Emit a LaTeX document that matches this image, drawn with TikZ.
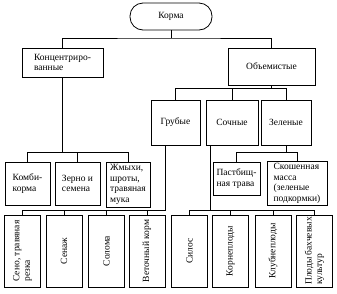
\documentclass[tikz,border=0pt]{standalone}
\usepackage{fontspec}
\setmainfont{Liberation Serif}
\usetikzlibrary{positioning}

\begin{document}
\begin{tikzpicture}[x=1pt, y=-1pt,
  box/.style={rectangle, draw, line width=0.8pt, inner sep=2pt, align=left,
              font=\fontsize{9.5}{10.5}\selectfont},
  rootbox/.style={box, rounded corners=13pt, minimum width=82pt, minimum height=27pt},
  vbox/.style={box, rotate=90, minimum width=72pt, minimum height=36pt},
  edge/.style={draw, line width=0.8pt},
]
  \useasboundingbox (0,0) rectangle (337,293);

  % ===== Root =====
  \node[rootbox] (korma) at (171,16.5) {Корма};

  % ===== First level =====
  \node[box, minimum width=81pt, minimum height=29pt] (konc) at (62.5,62.5)
       {Концентриро-\\ванные};
  \node[box, minimum width=87pt, minimum height=37pt] (obem) at (271.5,66.5) {Объемистые};

  % ===== Groups of bulky feed =====
  \node[box, minimum width=49pt, minimum height=45pt] (grub) at (175.5,122.5) {Грубые};
  \node[box, minimum width=52pt, minimum height=45pt] (soch) at (232,122.5) {Сочные};
  \node[box, minimum width=50pt, minimum height=45pt] (zel) at (286,122.5) {Зеленые};

  % ===== Concentrates and green feed =====
  \node[box, minimum width=45pt, minimum height=43pt] (kombi) at (27.5,183.5) {Комби-\\корма};
  \node[box, minimum width=45pt, minimum height=43pt] (zerno) at (77.5,183.5) {Зерно и\\семена};
  \node[box, minimum width=44pt, minimum height=45pt] (zhmyh) at (128,184.5)
       {Жмыхи,\\шроты,\\травяная\\мука};
  \node[box, minimum width=47pt, minimum height=33pt] (pastb) at (236.5,178.5)
       {Пастбищ-\\ная трава};
  \node[box, minimum width=60pt, minimum height=43pt] (skosh) at (297,183.5)
       {Скошенная\\масса\\(зеленые\\подкормки)};

  % ===== Bottom row (rotated) =====
  \node[vbox] (seno)   at (22.5,251)  {Сено, травяная\\резка};
  \node[vbox] (senazh) at (64,251)    {Сенаж};
  \node[vbox] (soloma) at (106.5,251) {Солома};
  \node[vbox] (vetoch) at (147,251)   {Веточный корм};
  \node[vbox] (silos)  at (189.5,251) {Силос};
  \node[vbox] (korne)  at (230.5,251) {Корнеплоды};
  \node[vbox] (klubne) at (273,251)   {Клубнеплоды};
  \node[vbox] (plody)  at (314.5,251) {Плоды бахчевых\\культур};

  % ===== Buses =====
  \coordinate (busroot)   at (171,38);
  \coordinate (busobem)   at (0,88);
  \coordinate (busmid)    at (0,152);
  \coordinate (busbottom) at (0,210);
  \coordinate (grubfoot)  at ([xshift=15pt]grub.south west);
  \coordinate (sochfoot)  at ([xshift=5pt]soch.south west);

  % ===== Edges =====
  % root -> first level
  \draw[edge] (korma.south) -- (korma.south |- busroot);
  \draw[edge] (konc.north) |- (busroot) -| (obem.north);

  % bulky -> groups
  \draw[edge] (obem.south) -- (obem.south |- busobem);
  \draw[edge] (grub.north) |- (zel.north |- busobem) -- (zel.north);
  \draw[edge] (soch.north) -- (soch.north |- busobem);

  % concentrates
  \draw[edge] (konc.south) -- (konc.south |- busmid);
  \draw[edge] (kombi.north) |- (zhmyh.north |- busmid) -- (zhmyh.north);
  \draw[edge] (zerno.north) -- (zerno.north |- busmid);

  % green feed
  \draw[edge] (zel.south) -- (zel.south |- busmid);
  \draw[edge] (pastb.north) |- (skosh.north |- busmid) -- (skosh.north);

  % roughage
  \draw[edge] (grubfoot) |- (seno.east |- busbottom) -- (seno.east);
  \draw[edge] (senazh.east) -- (senazh.east |- busbottom);
  \draw[edge] (soloma.east) -- (soloma.east |- busbottom);
  \draw[edge] (vetoch.east) -- (vetoch.east |- busbottom);

  % succulent feed
  \draw[edge] (sochfoot) -- (sochfoot |- busbottom);
  \draw[edge] (silos.east) |- (plody.east |- busbottom) -- (plody.east);
  \draw[edge] (korne.east) -- (korne.east |- busbottom);
  \draw[edge] (klubne.east) -- (klubne.east |- busbottom);

\end{tikzpicture}
\end{document}
